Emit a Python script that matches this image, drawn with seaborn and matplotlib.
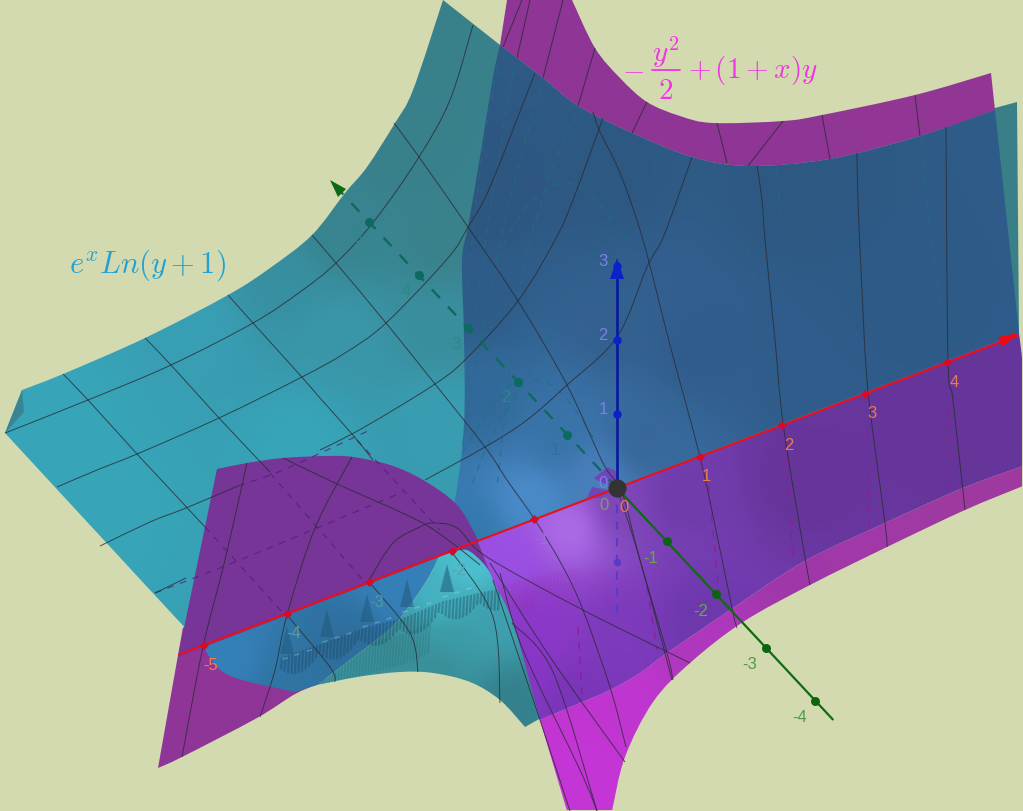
"""GeoGebra 3D view redrawn flat: two surfaces, their mesh lines and the xyz axes.

Everything is read off the picture in screen pixels (x right, y down).
"""
import numpy as np
import pandas as pd
import seaborn as sns
import matplotlib.pyplot as plt
from matplotlib.colors import to_rgb
from matplotlib.patches import PathPatch
from matplotlib.path import Path

sns.set_theme(style="white")

BG = "#d4dab0"

# surface outlines, one list per smooth edge
teal_edges = [
    [(5, 433), (22, 390)],
    [(22, 390), (63, 374), (145, 338), (228, 295), (270, 268), (312, 235), (345, 193), (367, 167), (395, 123), (413, 90), (443, 0)],
    [(443, 0), (500, 45)],
    [(500, 45), (543, 78), (578, 106), (632, 133), (692, 157), (748, 166), (830, 159), (920, 136), (995, 108)],
    [(995, 108), (1017, 102)],
    [(1017, 102), (1019, 333)],
    [(1019, 333), (460, 552)],
    [(460, 552), (300, 650)],
    [(300, 650), (203, 647)],
    [(203, 647), (150, 590), (5, 433)],
]
fold_edges = [[(5, 433), (22, 390)], [(22, 390), (24, 412)], [(24, 412), (5, 433)]]
top_purple_edges = [
    [(507, 0), (572, 0)],
    [(572, 0), (595, 48), (620, 78), (647, 102), (680, 116), (713, 123), (783, 121), (822, 115), (915, 95), (991, 73)],
    [(991, 73), (995, 110)],
    [(995, 110), (920, 136), (830, 159), (748, 166), (692, 157), (632, 133), (578, 106), (543, 78), (500, 45)],
    [(500, 45), (507, 0)],
]
overlap_edges = [
    [(500, 45), (543, 78), (578, 106), (632, 133), (692, 157), (748, 166), (830, 159), (920, 136), (995, 110)],
    [(995, 110), (1019, 333)],
    [(1019, 333), (440, 555)],
    [(440, 555), (455, 500), (464, 423), (464, 337), (462, 260), (468, 227), (480, 157), (493, 77), (500, 45)],
]
low_left_edges = [
    [(183, 627), (158, 768)],
    [(158, 768), (182, 757), (257, 718), (297, 693), (330, 680)],
    [(330, 680), (203, 647)],
    [(203, 647), (183, 627)],
]
hump_edges = [
    [(217, 469), (247, 463), (283, 458), (327, 456), (353, 457), (390, 465), (423, 480), (457, 505), (478, 540), (483, 553), (493, 577)],
    [(493, 577), (483, 563), (467, 550), (452, 552)],
    [(452, 552), (178, 657)],
    [(178, 657), (217, 469)],
]
under_blue_edges = [
    [(203, 647), (228, 675), (295, 692)],
    [(295, 692), (317, 685)],
    [(317, 685), (367, 647), (397, 622), (427, 580), (440, 553)],
    [(440, 553), (203, 647)],
]
low_teal_edges = [
    [(440, 553), (452, 552), (467, 550), (483, 556), (510, 590), (532, 640), (541, 718)],
    [(541, 718), (525, 727)],
    [(525, 727), (500, 700), (470, 682), (433, 673), (400, 672), (357, 677), (317, 685)],
    [(317, 685), (367, 647), (397, 622), (427, 580), (440, 553)],
]
front_purple_edges = [
    [(478, 542), (1019, 333)],
    [(1019, 333), (1023, 375), (1023, 466)],
    [(1023, 466), (963, 488), (885, 523), (805, 561), (733, 608), (667, 653), (640, 673), (610, 690), (568, 708), (540, 720)],
    [(540, 720), (513, 623), (493, 580), (478, 542)],
]
magenta_edges = [
    [(540, 720), (568, 708), (610, 690), (640, 673), (667, 653), (733, 608), (805, 561), (885, 523), (963, 488), (1023, 466)],
    [(1023, 466), (1023, 486)],
    [(1023, 486), (965, 510), (887, 547), (810, 585), (743, 622), (690, 663), (653, 702), (625, 757), (612, 811)],
    [(612, 811), (567, 811)],
    [(567, 811), (540, 720)],
]
origin_bit_a = [[(594, 478), (608, 467)], [(608, 467), (617, 472)], [(617, 472), (617, 488)], [(617, 488), (600, 482)], [(600, 482), (594, 478)]]
origin_bit_b = [[(587, 498), (592, 487)], [(592, 487), (612, 491)], [(612, 491), (600, 498)], [(600, 498), (587, 498)]]

# colours sampled at a few pixels of every surface
teal_shades = [(60, 400, "#37a5b9"), (200, 330, "#399fb5"), (280, 280, "#378fa2"), (340, 230, "#38838f"),
               (400, 150, "#38808a"), (450, 40, "#38808a"), (440, 240, "#3a828c"), (440, 330, "#3a8e9e"),
               (340, 340, "#3a97aa"), (440, 420, "#399eb2"), (300, 440, "#37a5b9"), (100, 500, "#37a5b9"),
               (1010, 200, "#387f88")]
overlap_shades = [(800, 200, "#2d5882"), (600, 180, "#2d5882"), (490, 200, "#2d5680"), (475, 300, "#2e5c88"),
                  (620, 320, "#33608f"), (900, 300, "#2e5a88"), (700, 350, "#305c8c"), (480, 400, "#316a9a"),
                  (560, 440, "#3873a8"), (595, 475, "#4a80bc"), (530, 500, "#4a8ccb"), (470, 530, "#3479ad"),
                  (640, 440, "#37679a"), (800, 370, "#2f5c8a")]
front_shades = [(570, 530, "#ad6ce8"), (510, 555, "#9b50e4"), (620, 510, "#7d45b8"), (680, 500, "#6f3cab"),
                (800, 480, "#65359a"), (950, 420, "#65359a"), (540, 620, "#8b38c8"), (620, 630, "#7d3abb"),
                (520, 660, "#8a35c8"), (580, 695, "#7a35b8"), (700, 620, "#6e38ad")]
magenta_shades = [(590, 770, "#c435d5"), (620, 700, "#c035d0"), (700, 640, "#ae38bd"), (800, 575, "#a038a8"),
                  (1000, 480, "#9e3aa0")]
low_teal_shades = [(470, 565, "#4ec2d2"), (440, 600, "#46b4c4"), (490, 620, "#3ea0ae"), (450, 640, "#3a9ca8"),
                   (400, 650, "#3a8d96"), (510, 700, "#34808c"), (440, 665, "#3a8d96")]
under_blue_shades = [(230, 655, "#3580b8"), (400, 585, "#3580b8"), (290, 680, "#2f74a3"), (350, 650, "#2e6e9c")]
top_purple_shades = [(700, 140, "#8e3595"), (950, 100, "#923796")]

# solid mesh lines
mesh_lines = [
    [(63, 374), (88, 400), (137, 454), (152, 470), (205, 527)],
    [(145, 338), (171, 365), (219, 418), (270, 472)],
    [(228, 295), (253, 323), (300, 375), (320, 398), (352, 434), (373, 460)],
    [(312, 235), (336, 263), (386, 323), (435, 384), (485, 447), (507, 480), (535, 520), (563, 567), (583, 610), (610, 687), (626, 747)],
    [(394, 123), (419, 157), (468, 227), (518, 301), (567, 385), (603, 463), (622, 493), (640, 560), (667, 653), (673, 680)],
    [(593, 112), (600, 132), (620, 173), (643, 240), (670, 345), (700, 457), (718, 540), (733, 613), (737, 628)],
    [(757, 166), (762, 200), (765, 240), (775, 340), (783, 423), (802, 540), (810, 585)],
    [(717, 123), (727, 163)],
    [(857, 153), (858, 200), (862, 290), (868, 391), (885, 523), (887, 547)],
    [(822, 115), (830, 159)],
    [(946, 127), (948, 360), (953, 400), (965, 510)],
    [(915, 95), (920, 136)],
    [(5, 433), (88, 400), (171, 365), (253, 323), (300, 292), (336, 263), (375, 220), (419, 157), (450, 100), (473, 25)],
    [(57, 487), (97, 470), (137, 454), (219, 418), (300, 378), (345, 353), (386, 323), (448, 258), (468, 227), (490, 187), (535, 73)],
    [(100, 546), (150, 522), (186, 508), (238, 486)],
    [(155, 593), (186, 578)],
    [(320, 450), (352, 434), (390, 412), (435, 384), (465, 360), (518, 301), (555, 240), (573, 200), (603, 118)],
    [(425, 480), (485, 447), (527, 420), (567, 385), (617, 337), (647, 267), (662, 240), (677, 200), (692, 157)],
    [(503, 47), (522, 0)], [(517, 58), (530, 0)], [(543, 78), (563, 0)], [(578, 106), (595, 48)],
    [(632, 133), (647, 102)], [(748, 166), (783, 121)],
    [(247, 463), (225, 560), (203, 647), (182, 757)],
    [(352, 457), (315, 528), (287, 615), (275, 670), (260, 717)],
    [(283, 458), (335, 483), (417, 520), (452, 543), (480, 565)],
    [(368, 582), (393, 543), (420, 527), (433, 523), (457, 528), (487, 557), (583, 610), (690, 663)],
    [(370, 583), (410, 633), (418, 672)],
    [(287, 615), (330, 667), (335, 682)],
    [(452, 552), (493, 617), (500, 703)],
    [(490, 563), (550, 657), (625, 762)],
    [(500, 573), (523, 650), (580, 770), (597, 811)],
    [(493, 580), (540, 720), (570, 811)],
    [(512, 623), (553, 672), (597, 811)],
    [(617, 488), (640, 560), (672, 680)],
]
# the same mesh seen through a surface, dashed
hidden_lines = [
    [(497, 67), (480, 170), (467, 293)],
    [(513, 70), (495, 180), (478, 293), (465, 400)],
    [(540, 87), (515, 180), (497, 257), (478, 350), (462, 450)],
    [(575, 113), (545, 190), (520, 290), (497, 487)],
    [(497, 257), (527, 207), (563, 183), (593, 197), (620, 230), (637, 260)],
    [(463, 453), (487, 413), (517, 382), (547, 383), (570, 403), (595, 440)],
    [(632, 250), (660, 350), (697, 440)],
    [(748, 247), (765, 330), (782, 413)],
    [(777, 167), (780, 220)],
    [(921, 136), (930, 230), (947, 343)],
    [(610, 217), (570, 300), (530, 370), (490, 440), (470, 490)],
]
hidden_purple_lines = [
    [(785, 443), (793, 560)], [(867, 430), (869, 527)], [(949, 407), (949, 493)],
    [(707, 470), (720, 603)], [(647, 587), (657, 650)], [(578, 627), (582, 697)],
    [(205, 527), (285, 615)], [(270, 473), (363, 580)], [(357, 440), (440, 530)],
    [(155, 593), (235, 562), (317, 528), (403, 492)],
    [(238, 486), (283, 470), (370, 430)],
]

# the teeth of the badly sampled fold under the hump
ridge_x = [280, 320, 363, 403, 443, 487, 503]
ridge_y = [657, 643, 627, 617, 600, 590, 587]
ghost_x = [497, 573, 597, 640]
ghost_y = [587, 570, 570, 575]
spike_x = [287, 327, 367, 407, 447]
spike_y = [640, 623, 608, 593, 578]

# axes
x_ticks = [-5, -4, -3, -2, -1, 0, 1, 2, 3, 4]
y_ticks_back = [1, 2, 3, 4, 5]
y_ticks_front = [-4, -3, -2, -1]
z_ticks = [-1, 1, 2, 3]
x_label_colors = ["#f07d55", "#5f9a98", "#4f9a9c", "#4fa4b0", "#a06ae0", "#f07850", "#f07850", "#f07850", "#f07850", "#f07850"]

ORIGIN = np.array([617.0, 488.0])
X_STEP = np.array([82.6, -31.4])
Y_STEP = np.array([-49.6, -53.2])
Z_STEP = np.array([0.0, -74.0])
LABEL_FONT = "Liberation Sans"
PINK = "#f233e6"


def on_axis(values, step):
    return ORIGIN + np.outer(values, step)


def edge_path(edges):
    # bezier pieces through the read points, corners stay sharp where edges meet
    verts, codes = [], []
    for n, edge in enumerate(edges):
        pts = np.array(edge, dtype=float)
        verts.append(pts[0])
        codes.append(Path.MOVETO if n == 0 else Path.LINETO)
        for i in range(len(pts) - 1):
            before = pts[max(i - 1, 0)]
            after = pts[min(i + 2, len(pts) - 1)]
            verts += [pts[i] + (pts[i + 1] - before) / 6, pts[i + 1] - (after - pts[i]) / 6, pts[i + 1]]
            codes += [Path.CURVE4] * 3
    return Path(np.array(verts), codes)


def shade(ax, edges, stops, z):
    path = edge_path(edges)
    gx, gy = np.meshgrid(np.arange(0, 1024, 4.0), np.arange(0, 812, 4.0))
    px = np.array([s[0] for s in stops], dtype=float)
    py = np.array([s[1] for s in stops], dtype=float)
    cols = np.array([to_rgb(s[2]) for s in stops])
    d2 = (gx[..., None] - px) ** 2 + (gy[..., None] - py) ** 2 + 400.0
    w = d2 ** -1.6
    rgb = (w[..., None] * cols).sum(axis=2) / w.sum(axis=2, keepdims=True)
    im = ax.imshow(rgb, extent=(-2, 1022, 810, -2), aspect="auto", zorder=z, interpolation="bilinear")
    im.set_clip_path(PathPatch(path, transform=ax.transData))
    return path


def flat(ax, edges, color, z):
    ax.add_patch(PathPatch(edge_path(edges), facecolor=color, edgecolor="none", zorder=z))


def curve(ax, line, z, **kw):
    ax.add_patch(PathPatch(edge_path([line]), facecolor="none", zorder=z, **kw))


def draw_straight(ax, pts, z, **kw):
    frame = pd.DataFrame(pts, columns=["x", "y"])
    sns.lineplot(data=frame, x="x", y="y", estimator=None, sort=False, legend=False, ax=ax, zorder=z, **kw)


fig = plt.figure(figsize=(10.23, 8.11), dpi=100, facecolor=BG)
ax = fig.add_axes([0, 0, 1, 1])
ax.set_facecolor(BG)

# surfaces, back to front
shade(ax, teal_edges, teal_shades, 1)
flat(ax, fold_edges, "#3b8494", 1.1)
shade(ax, top_purple_edges, top_purple_shades, 1.2)
shade(ax, overlap_edges, overlap_shades, 1.3)
flat(ax, low_left_edges, "#8e3597", 2)
under_path = shade(ax, under_blue_edges, under_blue_shades, 2.1)
teal_path = shade(ax, low_teal_edges, low_teal_shades, 2.2)
flat(ax, hump_edges, "#763597", 2.3)

# fold texture
for xs in np.arange(282, 502, 3.5):
    top = np.interp(xs, ridge_x, ridge_y)
    phase = ((xs - 280) % 40) / 40
    length = 10 + 12 * phase * (1 - phase) * 4
    line, = ax.plot([xs, xs - 1], [top + 2, top + length], color="#143f58", alpha=0.34, lw=1.6, zorder=2.25)
    if xs > 405:
        line.set_clip_path(PathPatch(teal_path, transform=ax.transData))
for xs in np.arange(325, 432, 3.0):
    top = np.interp(xs, ridge_x, ridge_y) + 18
    line, = ax.plot([xs, xs - 2], [top, top + 30], color="#2b7680", alpha=0.4, lw=1.2, zorder=2.24)
    line.set_clip_path(PathPatch(teal_path, transform=ax.transData))
for sx, sy in zip(spike_x, spike_y):
    ax.fill([sx - 7, sx, sx + 7], [sy + 14, sy - 14, sy + 14], color="#205a7c", alpha=0.55, lw=0, zorder=2.26)
    for k in range(3):
        ax.plot([sx + k * 12 - 4, sx + k * 12], [sy + 19 - k * 4, sy + 18 - k * 4], color="#b9dfe6", alpha=0.3, lw=1.2, zorder=2.27)

shade(ax, magenta_edges, magenta_shades, 3)
front_path = shade(ax, front_purple_edges, front_shades, 3.1)
for xs in np.arange(498, 640, 3.5):
    top = np.interp(xs, ghost_x, ghost_y)
    phase = ((xs - 497) % 38) / 38
    fade = max(0.0, 1 - (xs - 497) / 170)
    line, = ax.plot([xs, xs + 1], [top, top + 14 + 22 * phase], color="#a02fa8", alpha=0.24 * fade, lw=1.7, zorder=3.2)
    line.set_clip_path(PathPatch(front_path, transform=ax.transData))
flat(ax, origin_bit_a, "#6f45b8", 3.3)
flat(ax, origin_bit_b, "#6f45b8", 3.3)

# mesh
for line in hidden_lines:
    curve(ax, line, 4, edgecolor="#1f6f84", lw=0.8, linestyle=(0, (6, 6)), alpha=0.8)
for line in hidden_purple_lines[:6]:
    curve(ax, line, 4, edgecolor="#8a1f98", lw=0.9, linestyle=(0, (6, 6)))
for line in hidden_purple_lines[6:]:
    curve(ax, line, 4, edgecolor="#4f1f78", lw=0.8, linestyle=(0, (6, 6)), alpha=0.8)
for line in mesh_lines:
    curve(ax, line, 4.5, edgecolor="#2b2b33", lw=0.7, alpha=0.8)

# axes and tick marks
x_pts = on_axis(x_ticks, X_STEP)
y_back = on_axis(y_ticks_back, Y_STEP)
y_front = on_axis(y_ticks_front, Y_STEP)
z_pts = on_axis(z_ticks, Z_STEP)

draw_straight(ax, on_axis([-5.3, 4.85], X_STEP), 6, color="#e8101c", lw=1.5)
draw_straight(ax, on_axis([0, -4.35], Y_STEP), 6, color="#0f6a12", lw=1.6)
draw_straight(ax, on_axis([0, 5.55], Y_STEP), 5, color="#0d6a5c", lw=1.7, linestyle=(0, (5, 5)))
draw_straight(ax, on_axis([0, 2.95], Z_STEP), 6, color="#061a9e", lw=1.9)
draw_straight(ax, on_axis([0, -1.8], Z_STEP), 3.6, color="#5a3bc8", lw=1.5, linestyle=(0, (4, 4)))

ax.fill([1018, 998, 1003], [333, 337, 347], color="#ee0a10", lw=0, zorder=6.2)
ax.fill([330, 346, 338], [180, 189, 197], color="#0c6a10", lw=0, zorder=6.2)
ax.fill([617, 610, 624], [258, 279, 279], color="#0a22c8", lw=0, zorder=6.2)

sns.scatterplot(x=x_pts[:, 0], y=x_pts[:, 1], color="#d80a28", s=22, marker="D", linewidth=0, ax=ax, zorder=6.3, legend=False)
sns.scatterplot(x=y_front[:, 0], y=y_front[:, 1], color="#0b6410", s=42, linewidth=0, ax=ax, zorder=6.3, legend=False)
sns.scatterplot(x=y_back[:, 0], y=y_back[:, 1], color="#0d6a60", s=42, linewidth=0, ax=ax, zorder=6.3, legend=False)
sns.scatterplot(x=z_pts[1:, 0], y=z_pts[1:, 1], color="#0a22c8", s=36, linewidth=0, ax=ax, zorder=6.3, legend=False)
sns.scatterplot(x=z_pts[:1, 0], y=z_pts[:1, 1], color="#5a3bc8", s=30, linewidth=0, ax=ax, zorder=3.7, legend=False)
sns.scatterplot(x=[ORIGIN[0]], y=[ORIGIN[1]], color="#333333", s=170, linewidth=0, ax=ax, zorder=7, legend=False)

# tick labels
label_kw = dict(fontsize=12, family=LABEL_FONT, ha="center", va="center", zorder=6.5)
for v, p, c in zip(x_ticks, x_pts, x_label_colors):
    ax.text(p[0] + 7, p[1] + 20, str(v), color=c, **label_kw)
for v, p in zip(y_ticks_front, y_front):
    ax.text(p[0] - 16, p[1] + 17, str(v), color="#66a848" if v > -3 else "#4f9a4c", **label_kw)
for v, p in zip(y_ticks_back, y_back):
    ax.text(p[0] - 12, p[1] + 16, str(v), color="#2a8a86" if v > 1 else "#2f6f9a", **label_kw)
for v, p in zip(z_ticks[1:], z_pts[1:]):
    ax.text(p[0] - 14, p[1] - 5, str(v), color="#7b80e8", **label_kw)
ax.text(603, 484, "0", color="#7b80e8", **label_kw)
ax.text(604, 505, "0", color="#7f9a60", **label_kw)

# surface names, the fraction is set by hand so its parts keep full size
math_kw = dict(fontsize=21, math_fontfamily="cm", zorder=8)
ax.text(622, 78, r"$-$", color=PINK, ha="left", va="baseline", **math_kw)
ax.text(666, 62, r"$y^2$", color=PINK, ha="center", va="baseline", **math_kw)
ax.plot([652, 680], [70, 70], color=PINK, lw=1.3, zorder=8)
ax.text(666, 99, r"$2$", color=PINK, ha="center", va="baseline", **math_kw)
ax.text(688, 78, r"$+\,(1+x)y$", color=PINK, ha="left", va="baseline", **math_kw)
ax.text(69, 273, r"$e^{x}Ln(y+1)$", color="#22a2d2", fontsize=22, math_fontfamily="cm", va="baseline", zorder=8)

ax.set_xlim(0, 1023)
ax.set_ylim(811, 0)
ax.axis("off")
fig.savefig("out.png", dpi=100, facecolor=BG)
